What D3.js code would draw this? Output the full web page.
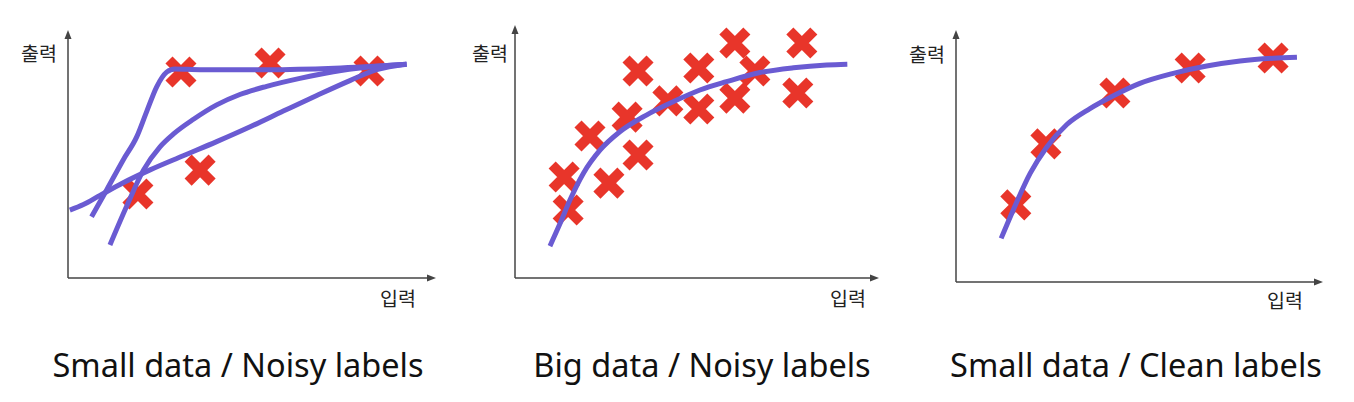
<!DOCTYPE html>
<html><head><meta charset="utf-8">
<script src="https://cdn.jsdelivr.net/npm/d3@7"></script>
<style>body{margin:0;background:#fff;} svg{display:block;}</style>
</head><body>
<svg id="c" width="1354" height="402"></svg>
<script>
// ---- data (units 0-100 on each axis) ----
const titles = ["Small data / Noisy labels", "Big data / Noisy labels", "Small data / Clean labels"];
const xLabel = "입력";
const yLabel = "출력";

const p1Points = [[30.7,83.1],[54.9,86.7],[81.8,83.5],[35.9,43.5],[19.0,33.9]];
const p1CurveA = [[6.4,24.7],[10.5,35.5],[15.0,47.6],[18.7,57.0],[21.4,67.2],[24.1,77.1],[26.8,83.0],[29.0,84.3],[35.9,84.0],[54.3,84.0],[72.4,84.6],[92.0,86.2]];
const p1CurveB = [[11.4,13.3],[15.9,28.8],[20.5,43.5],[25.0,52.9],[28.6,58.0],[34.1,64.0],[40.4,69.8],[46.7,74.0],[54.0,77.3],[63.0,80.5],[72.1,83.2],[81.2,85.0],[92.0,86.2]];
const p1CurveC = [[0.5,27.4],[4.2,29.6],[8.7,33.3],[15.0,38.4],[22.3,43.6],[31.3,49.3],[40.4,55.0],[49.5,61.0],[58.5,67.3],[67.6,73.6],[76.6,79.6],[83.9,84.0],[92.0,86.2]];

const p2Points = [[13.5,39.9],[14.6,26.9],[20.6,56.1],[25.8,37.5],[30.8,63.6],[33.8,81.8],[33.8,48.6],[42.0,70.0],[50.5,83.0],[50.5,66.8],[60.4,92.9],[60.4,71.1],[65.9,81.8],[78.8,92.9],[77.7,73.1]];
const p2Curve = [[9.6,12.6],[12.4,21.6],[15.1,30.8],[18.8,41.4],[23.4,50.6],[28.8,57.8],[36.1,64.4],[43.5,69.7],[50.8,74.3],[58.1,77.6],[67.3,81.2],[76.5,83.1],[85.6,84.2],[91.3,84.5]];

const p3Points = [[16.3,30.6],[24.5,54.8],[43.3,75.0],[63.8,84.9],[86.4,88.9]];
const p3Curve = [[12.3,17.3],[15.6,28.6],[20.2,43.1],[24.7,53.5],[30.2,62.5],[36.5,68.8],[43.3,74.2],[50.1,78.8],[59.2,82.8],[68.3,85.7],[77.4,87.7],[86.5,88.8],[92.9,89.2]];

// ---- layout ----
const panels = [
  {x0:68,  x1:436,  y0:278, y1:30, yl:[57,61], xl:[416,306], points:p1Points, curves:[p1CurveA,p1CurveB,p1CurveC], title:titles[0], tx:238},
  {x0:515, x1:879,  y0:278, y1:25, yl:[508,61], xl:[866,306], points:p2Points, curves:[p2Curve], title:titles[1], tx:702},
  {x0:956, x1:1323, y0:282, y1:30, yl:[945,62], xl:[1303,308], points:p3Points, curves:[p3Curve], title:titles[2], tx:1136}
];

const RED = "#e8352a", PURPLE = "#6a5bd2", AXIS = "#444";
const svg = d3.select("#c");

panels.forEach(p => {
  const x = d3.scaleLinear().domain([0,100]).range([p.x0, p.x1]);
  const y = d3.scaleLinear().domain([0,100]).range([p.y0, p.y1]);
  const g = svg.append("g");

  // axes
  g.append("line").attr("x1",x(0)).attr("y1",y(0)).attr("x2",x(100)-7).attr("y2",y(0))
    .attr("stroke",AXIS).attr("stroke-width",1.5);
  g.append("line").attr("x1",x(0)).attr("y1",y(0)).attr("x2",x(0)).attr("y2",y(100)+7)
    .attr("stroke",AXIS).attr("stroke-width",1.5);
  g.append("path").attr("d",`M${x(100)},${y(0)} L${x(100)-9},${y(0)-3.5} L${x(100)-9},${y(0)+3.5} Z`).attr("fill",AXIS);
  g.append("path").attr("d",`M${x(0)},${y(100)} L${x(0)-3.5},${y(100)+9} L${x(0)+3.5},${y(100)+9} Z`).attr("fill",AXIS);

  g.append("text").attr("x",p.yl[0]).attr("y",p.yl[1]).attr("text-anchor","end")
    .attr("font-family","'Noto Sans CJK KR'").attr("font-size",19.5).attr("fill","#222").text(yLabel);
  g.append("text").attr("x",p.xl[0]).attr("y",p.xl[1]).attr("text-anchor","end")
    .attr("font-family","'Noto Sans CJK KR'").attr("font-size",19.5).attr("fill","#222").text(xLabel);

  // crosses
  const s = 12;
  const cg = g.selectAll("g.cross").data(p.points).join("g")
    .attr("transform", d => `translate(${x(d[0])},${y(d[1])})`);
  cg.append("path").attr("d",`M${-s},${-s}L${s},${s}M${-s},${s}L${s},${-s}`)
    .attr("stroke",RED).attr("stroke-width",10).attr("fill","none");

  // curves
  const line = d3.line().x(d=>x(d[0])).y(d=>y(d[1])).curve(d3.curveMonotoneX);
  p.curves.forEach(c => {
    g.append("path").attr("d",line(c)).attr("fill","none").attr("stroke",PURPLE)
      .attr("stroke-width",5).attr("stroke-linecap","butt");
  });

  g.append("text").attr("x",p.tx).attr("y",377).attr("text-anchor","middle")
    .attr("font-family","'Noto Sans', 'Open Sans', sans-serif").attr("font-size",32.5).attr("fill","#111").text(p.title);
});
</script>
</body></html>
